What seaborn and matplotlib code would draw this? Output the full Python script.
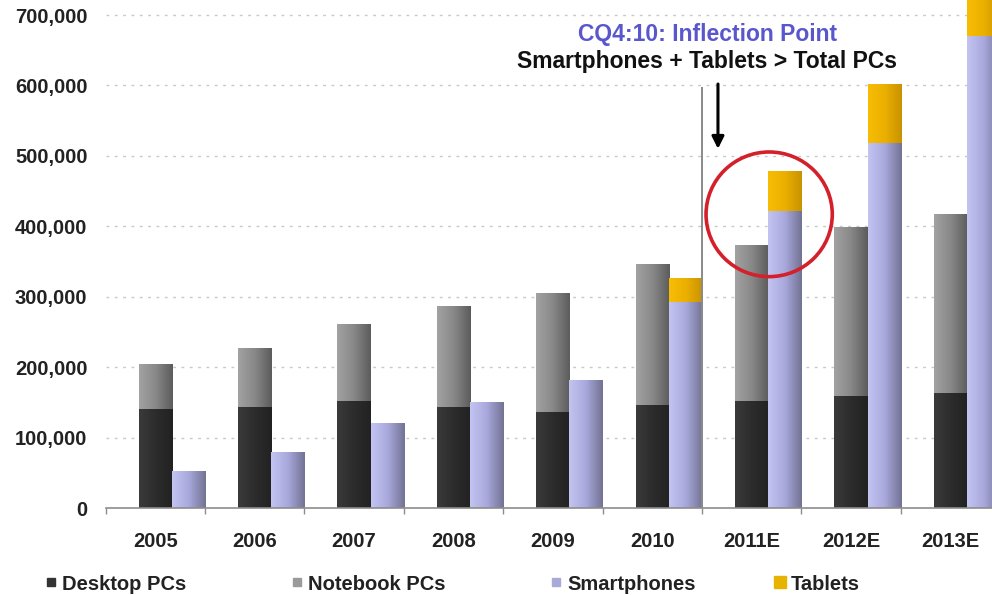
import numpy as np
import pandas as pd
import matplotlib
matplotlib.use("Agg")
import matplotlib.pyplot as plt
from matplotlib.colors import LinearSegmentedColormap, to_rgba
from matplotlib.patches import Ellipse
from matplotlib.lines import Line2D
import seaborn as sns

# ---- data (thousands of units) ----
years = ['2005', '2006', '2007', '2008', '2009', '2010', '2011E', '2012E', '2013E']
desktop_pcs = [141, 144, 152, 144, 137, 146, 152, 159, 163]
notebook_pcs = [63, 83, 109, 143, 168, 200, 221, 240, 255]
smartphones = [52, 79, 121, 150, 182, 293, 422, 518, 670]
tablets = [0, 0, 0, 0, 0, 34, 56, 84, 80]
legend_labels = ['Desktop PCs', 'Notebook PCs', 'Smartphones', 'Tablets']
yticks = [0, 100000, 200000, 300000, 400000, 500000, 600000, 700000]

sns.set_theme(style="white")
plt.rcParams['font.family'] = ['Liberation Sans', 'DejaVu Sans']
plt.rcParams['font.weight'] = 'bold'

c_desk = '#2f2f2f'
c_note = '#8a8a8a'
c_smart = '#a9a9dc'
c_tab = '#e8b000'

rows = []
for i, y in enumerate(years):
    rows.append(dict(year=y, group='PC', total=(desktop_pcs[i] + notebook_pcs[i]) * 1000,
                     lower=desktop_pcs[i] * 1000))
    rows.append(dict(year=y, group='Mobile', total=(smartphones[i] + tablets[i]) * 1000,
                     lower=smartphones[i] * 1000))
df = pd.DataFrame(rows)

fig = plt.figure(figsize=(9.92, 5.95), dpi=100)
W, H = 992, 595
ax = fig.add_axes([105.5 / W, 87 / H, 894.6 / W, 508 / H])

sns.barplot(data=df, x='year', y='total', hue='group', hue_order=['PC', 'Mobile'],
            palette={'PC': c_note, 'Mobile': c_tab}, width=2 / 3, errorbar=None,
            saturation=1, linewidth=0, legend=False, ax=ax, zorder=3)
sns.barplot(data=df, x='year', y='lower', hue='group', hue_order=['PC', 'Mobile'],
            palette={'PC': c_desk, 'Mobile': c_smart}, width=2 / 3, errorbar=None,
            saturation=1, linewidth=0, legend=False, ax=ax, zorder=3)

# gradient fills clipped to each bar
grads = {
    c_desk: ['#3a3a3a', '#2c2c2c', '#222222'],
    c_note: ['#a2a2a2', '#888888', '#5c5c5c'],
    c_smart: ['#c4c4f2', '#a8a8dc', '#737394'],
    c_tab: ['#f7bd05', '#ebb000', '#c99200'],
}
cmaps = {k: LinearSegmentedColormap.from_list('g', v) for k, v in grads.items()}
gimg = np.linspace(0, 1, 64).reshape(1, -1)
for p in list(ax.patches):
    fc = p.get_facecolor()
    key = None
    for k in cmaps:
        if np.allclose(to_rgba(k), fc, atol=0.01):
            key = k
    if key is None or p.get_height() <= 0:
        continue
    x0, y0 = p.get_x(), p.get_y()
    x1, y1 = x0 + p.get_width(), y0 + p.get_height()
    im = ax.imshow(gimg, cmap=cmaps[key], extent=[x0, x1, y0, y1], aspect='auto',
                   zorder=p.get_zorder() + 0.01, interpolation='bilinear')
    im.set_clip_path(p)

ax.set_xlim(-2 / 3, len(years) - 2 / 3)
ax.set_ylim(0, 721300)

# axes styling
for s in ['top', 'right', 'left']:
    ax.spines[s].set_visible(False)
ax.spines['bottom'].set_color('#8c8c8c')
ax.spines['bottom'].set_linewidth(1.2)
ax.spines['bottom'].set_zorder(5)

ax.set_yticks(yticks)
ax.set_yticklabels([f'{v:,}' for v in yticks])
ax.set_xticks(np.arange(len(years)) - 1 / 6)
ax.set_xticklabels(years)
ax.set_xticks(np.arange(-1, len(years)) + 1 / 3, minor=True)
ax.tick_params(axis='x', which='major', length=0, pad=17, labelsize=14.5, labelcolor='#222222')
ax.tick_params(axis='x', which='minor', length=4, width=1, color='#8c8c8c', direction='out', bottom=True)
ax.tick_params(axis='y', length=0, pad=13, labelsize=14.5, labelcolor='#222222')
for t in ax.get_xticklabels() + ax.get_yticklabels():
    t.set_fontweight('bold')
ax.set_xlabel('')
ax.set_ylabel('')

ax.grid(False)
for v in yticks[1:]:
    ax.axhline(v, color='#c8c8c8', lw=1.0, ls=(0, (2, 4)), zorder=1)

# inflection annotations
ax.vlines(5 + 1 / 3, 0, 598000, color='#8a8a8a', lw=1.4, zorder=4)
ax.annotate('', xy=(5.495, 510000), xytext=(5.495, 602000),
            arrowprops=dict(arrowstyle='-|>', color='black', lw=2.2, mutation_scale=18,
                            shrinkA=0, shrinkB=0), zorder=6)
ax.add_patch(Ellipse((6.01, 417000), width=1.27, height=177000, fill=False,
                     edgecolor='#d4202a', lw=2.6, zorder=6))
ax.text(5.39, 672000, 'CQ4:10: Inflection Point', ha='center', va='center',
        fontsize=16.5, fontweight='bold', color='#5a57cc', zorder=6)
ax.text(5.385, 634000, 'Smartphones + Tablets > Total PCs', ha='center', va='center',
        fontsize=16.5, fontweight='bold', color='#111111', zorder=6)

# legend
handles = [
    Line2D([], [], marker='s', ls='none', color='#333333', markersize=5.5),
    Line2D([], [], marker='s', ls='none', color='#9a9a9a', markersize=5.5),
    Line2D([], [], marker='s', ls='none', color='#aaaad8', markersize=5.5),
    Line2D([], [], marker='s', ls='none', color='#e6b400', markersize=8),
]
common = dict(frameon=False, handlelength=0.6, handletextpad=0.25, borderpad=0,
              borderaxespad=0, prop={'size': 14.5, 'weight': 'bold'})
leg1 = fig.legend(handles[:3], legend_labels[:3], loc='center left',
                  bbox_to_anchor=(45 / W, 1 - 584 / H), ncol=3, columnspacing=5.2, **common)
leg2 = fig.legend(handles[3:], legend_labels[3:], loc='center left',
                  bbox_to_anchor=(774 / W, 1 - 584 / H), ncol=1, **common)
for lg in (leg1, leg2):
    for t in lg.get_texts():
        t.set_color('#222222')

fig.savefig('out.png', dpi=100)
